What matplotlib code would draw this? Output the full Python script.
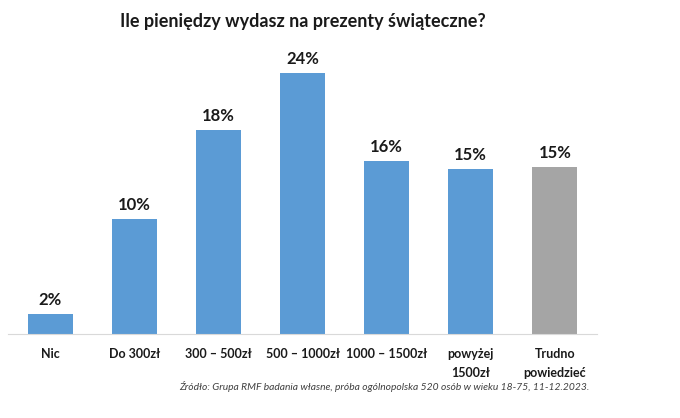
import matplotlib.pyplot as plt
import numpy as np

categories = ['Nic', 'Do 300zł', '300 – 500zł', '500 – 1000zł', '1000 – 1500zł',
              'powyżej\n1500zł', 'Trudno\npowiedzieć']
values = [1.8, 10.4, 18.4, 23.6, 15.6, 14.9, 15.1]
colors = ['#5B9BD5'] * 6 + ['#A5A5A5']

title = 'Ile pieniędzy wydasz na prezenty świąteczne?'
source = ('Źródło: Grupa RMF badania własne, próba ogólnopolska 520 osób w wieku 18-75, '
          '11-12.2023.')

plt.rcParams['font.family'] = ['Lato', 'DejaVu Sans']

fig = plt.figure(figsize=(6.8, 4.18), dpi=100)
ymax = 30
px_per_unit = 11.07
ax = fig.add_axes([8 / 680, 84 / 418, 589 / 680, ymax * px_per_unit / 418])

x = np.arange(len(categories))
bars = ax.bar(x, values, width=0.535, color=colors)
for b, v in zip(bars, values):
    ax.text(b.get_x() + b.get_width() / 2, v + 0.55, f'{v:.0f}%', ha='center', va='bottom',
            fontsize=12, fontweight='bold', color='#1a1a1a')

ax.set_xlim(-0.5, len(categories) - 0.5)
ax.set_ylim(0, ymax)
ax.set_xticks(x)
ax.set_xticklabels(categories, fontsize=9, fontweight='bold', color='#1a1a1a', linespacing=1.75)
ax.tick_params(axis='x', length=0, pad=10)
ax.set_yticks([])
for s in ['top', 'right', 'left']:
    ax.spines[s].set_visible(False)
ax.spines['bottom'].set_color('#D9D9D9')

fig.text(303 / 680, 1 - 22 / 418, title, ha='center', va='center', fontsize=13,
         fontweight='bold', color='#1a1a1a')
fig.text(589 / 680, 1 - 386 / 418, source, ha='right', va='center', fontsize=7.4,
         style='italic', color='#404040')

fig.savefig('out.png', dpi=100)
